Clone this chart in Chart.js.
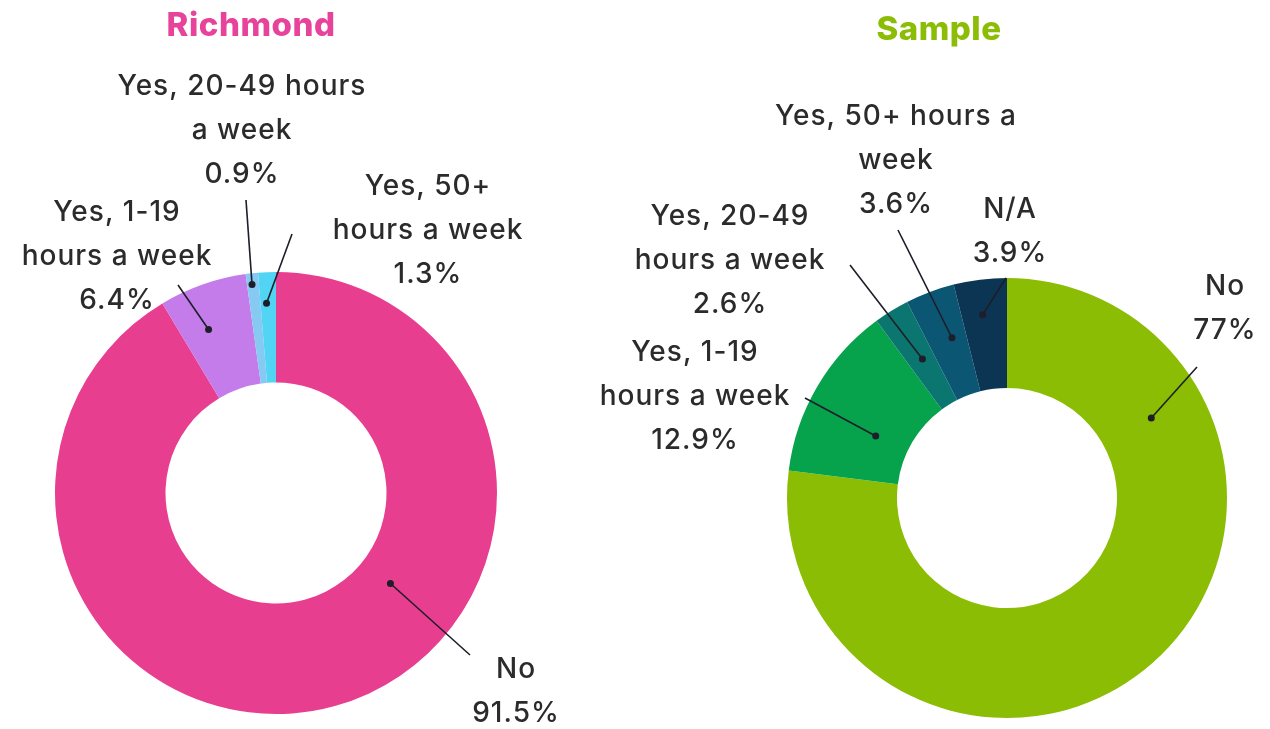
<!DOCTYPE html>
<html>
<head>
<meta charset="utf-8">
<script src="https://cdn.jsdelivr.net/npm/chart.js@4.4.0/dist/chart.umd.min.js"></script>
<style>
  body { margin: 0; background: #fff; }
  .wrap { position: absolute; top: 0; left: 0; width: 1270px; height: 729px; }
</style>
</head>
<body>
<div class="wrap"><canvas id="richmond"></canvas></div>
<div class="wrap"><canvas id="sample"></canvas></div>
<script>
// survey answers, clockwise from the top
const richLabels = ['No', 'Yes, 1-19 hours a week', 'Yes, 20-49 hours a week', 'Yes, 50+ hours a week'];
const richValues = [91.5, 6.4, 0.9, 1.3];
const richColors = ['#e83e8f', '#c47ceb', '#86c9f3', '#52d5f4'];

const sampleLabels = ['No', 'Yes, 1-19 hours a week', 'Yes, 20-49 hours a week', 'Yes, 50+ hours a week', 'N/A'];
const sampleValues = [77, 12.9, 2.6, 3.6, 3.9];
const sampleColors = ['#8cbd05', '#07a24c', '#0b7670', '#0b5673', '#0b3552'];

// label text lines (percent is appended from the data)
const richText = [['No'], ['Yes, 1-19', 'hours a week'], ['Yes, 20-49 hours', 'a week'], ['Yes, 50+', 'hours a week']];
const sampleText = [['No'], ['Yes, 1-19', 'hours a week'], ['Yes, 20-49', 'hours a week'], ['Yes, 50+ hours a', 'week'], ['N/A']];

const FONT = '500 28px Inter, sans-serif';
const LINE_H = 44;

// callout placement: t = where along the slice the dot sits, f = fraction of radius,
// lx/ly = label centre/first line, ex/ey = end of leader line
const richCallouts = [
  { t: 0.39, f: 0.66, lx: 516, ly: 670, ex: 470, ey: 655 },
  { t: 0.37, f: 0.80, lx: 117, ly: 213, ex: 178, ey: 285 },
  { t: 0.42, f: 0.95, lx: 242, ly: 87, ex: 246, ey: 200 },
  { t: 0.39, f: 0.86, lx: 428, ly: 187, ex: 292, ey: 234 }
];
const sampleCallouts = [
  { t: 0.22, f: 0.75, lx: 1225, ly: 287, ex: 1197, ey: 367 },
  { t: 0.39, f: 0.66, lx: 695, ly: 353, ex: 805, ey: 398 },
  { t: 0.54, f: 0.74, lx: 730, ly: 217, ex: 850, ey: 265 },
  { t: 0.62, f: 0.77, lx: 896, ly: 117, ex: 898, ey: 230 },
  { t: 0.46, f: 0.84, lx: 1010, ly: 210, ex: 1006, ey: 278 }
];

const calloutPlugin = {
  id: 'callouts',
  afterDatasetsDraw(chart, args, opts) {
    const ctx = chart.ctx;
    const meta = chart.getDatasetMeta(0);
    const values = chart.data.datasets[0].data;
    ctx.save();
    // title
    ctx.font = '800 33px Inter, sans-serif';
    ctx.letterSpacing = '0.5px';
    ctx.fillStyle = opts.titleColor;
    ctx.textAlign = 'center';
    ctx.textBaseline = 'middle';
    ctx.fillText(opts.title, opts.titleX, opts.titleY);

    meta.data.forEach((arc, i) => {
      const c = opts.callouts[i];
      const p = arc.getProps(['x', 'y', 'startAngle', 'endAngle', 'outerRadius']);
      const a = p.startAngle + c.t * (p.endAngle - p.startAngle);
      const r = c.f * p.outerRadius;
      const dx = p.x + Math.cos(a) * r;
      const dy = p.y + Math.sin(a) * r;
      ctx.strokeStyle = '#1e1e2a';
      ctx.lineWidth = 1.6;
      ctx.beginPath();
      ctx.moveTo(dx, dy);
      ctx.lineTo(c.ex, c.ey);
      ctx.stroke();
      ctx.fillStyle = '#1e1e2a';
      ctx.beginPath();
      ctx.arc(dx, dy, 3.5, 0, Math.PI * 2);
      ctx.fill();

      const lines = opts.text[i].concat([values[i] + '%']);
      ctx.font = FONT;
      ctx.letterSpacing = '1px';
      ctx.fillStyle = '#2b2b2b';
      lines.forEach((s, k) => ctx.fillText(s, c.lx, c.ly + k * LINE_H));
    });
    ctx.restore();
  }
};

function makeDoughnut(id, labels, values, colors, padding, plugOpts) {
  return new Chart(document.getElementById(id), {
    type: 'doughnut',
    data: {
      labels: labels,
      datasets: [{ data: values, backgroundColor: colors, borderWidth: 0 }]
    },
    options: {
      responsive: true,
      maintainAspectRatio: false,
      animation: false,
      cutout: '50%',
      layout: { padding: padding },
      plugins: {
        legend: { display: false },
        tooltip: { enabled: false },
        callouts: plugOpts
      }
    },
    plugins: [calloutPlugin]
  });
}

makeDoughnut('richmond', richLabels, richValues, richColors,
  { left: 55, right: 773, top: 272, bottom: 15 },
  { title: 'Richmond', titleColor: '#e8439a', titleX: 251, titleY: 26, text: richText, callouts: richCallouts });

makeDoughnut('sample', sampleLabels, sampleValues, sampleColors,
  { left: 787, right: 43, top: 278, bottom: 11 },
  { title: 'Sample', titleColor: '#8cbd05', titleX: 939, titleY: 30, text: sampleText, callouts: sampleCallouts });
</script>
</body>
</html>
